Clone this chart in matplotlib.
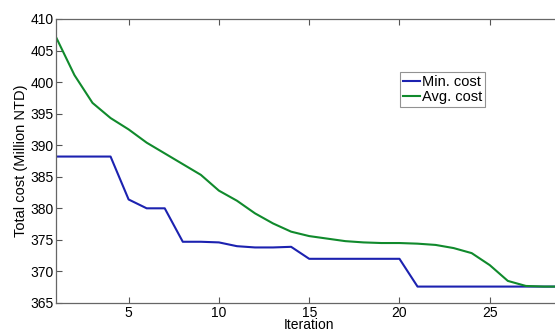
import matplotlib.pyplot as plt
import numpy as np

plt.rcParams['font.family'] = ['Liberation Sans', 'DejaVu Sans']

iterations = np.arange(1, 30)
min_cost = [388.2, 388.2, 388.2, 388.2, 381.4, 380.0, 380.0, 374.7, 374.7, 374.6,
            374.0, 373.8, 373.8, 373.9, 372.0, 372.0, 372.0, 372.0, 372.0, 372.0,
            367.6, 367.6, 367.6, 367.6, 367.6, 367.6, 367.6, 367.6, 367.6]
avg_cost = [407.0, 401.1, 396.7, 394.3, 392.5, 390.4, 388.7, 387.0, 385.3, 382.8,
            381.2, 379.2, 377.6, 376.3, 375.6, 375.2, 374.8, 374.6, 374.5, 374.5,
            374.4, 374.2, 373.7, 372.9, 371.0, 368.5, 367.7, 367.6, 367.6]

fig = plt.figure(figsize=(5.55, 3.33), dpi=100)
ax = fig.add_axes([0.1016, 0.0901, 0.911, 0.853])

ax.plot(iterations, min_cost, color='#1c22b0', lw=1.5, label='Min. cost')
ax.plot(iterations, avg_cost, color='#108a2c', lw=1.5, label='Avg. cost')

ax.set_xlim(1, 29)
ax.set_ylim(365, 410)
ax.set_xticks([5, 10, 15, 20, 25])
ax.set_yticks(np.arange(365, 411, 5))
ax.tick_params(direction='in', top=True, right=True, labelsize=10, length=4,
               color='#555555')
ax.tick_params(axis='x', pad=2)
ax.tick_params(axis='y', pad=2)
for s in ax.spines.values():
    s.set_color('#666666')
    s.set_linewidth(0.9)

ax.set_xlabel('Iteration', fontsize=10, labelpad=-1)
ax.set_ylabel('Total cost (Million NTD)', fontsize=10.5, labelpad=2)

leg = ax.legend(loc='upper left', bbox_to_anchor=(400 / 555, 1 - 72 / 333),
                bbox_transform=fig.transFigure, fontsize=10.5, frameon=True,
                fancybox=False, handlelength=1.2, handletextpad=0.1,
                borderpad=0.2, labelspacing=0.05, borderaxespad=0)
leg.get_frame().set_edgecolor('#777777')
leg.get_frame().set_linewidth(0.8)

fig.savefig('out.png', dpi=100)
